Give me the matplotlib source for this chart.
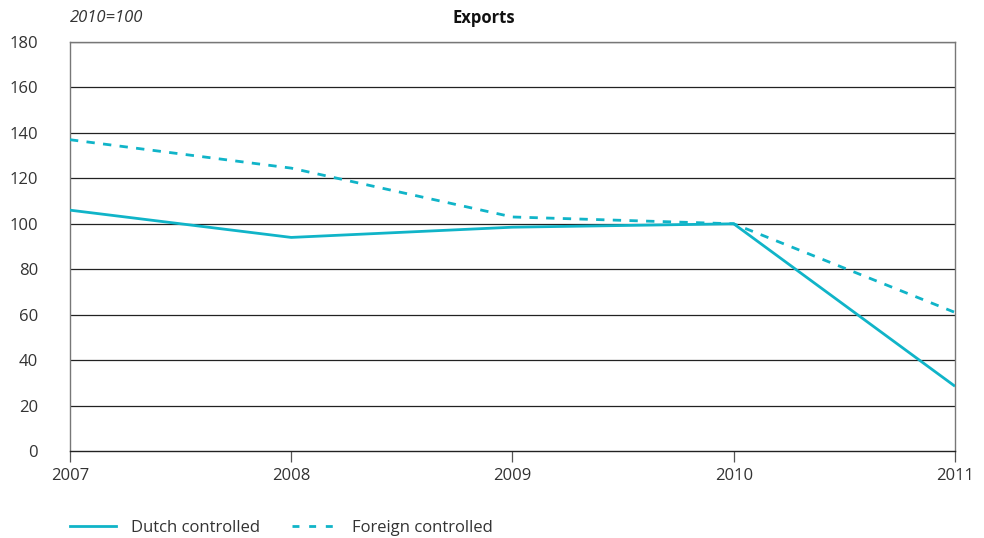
import matplotlib
matplotlib.use("Agg")
import matplotlib.pyplot as plt
from matplotlib.lines import Line2D

years = [2007, 2008, 2009, 2010, 2011]
dutch = [106, 94, 98.5, 100, 28.5]
foreign = [137, 124.5, 103, 100, 61]
yticks = [0, 20, 40, 60, 80, 100, 120, 140, 160, 180]

plt.rcParams['font.family'] = ['Open Sans', 'DejaVu Sans']
line_color = '#10b4c8'
text_color = '#333333'

fig = plt.figure(figsize=(9.84, 5.38), dpi=100)
ax = fig.add_axes([0.0711, 0.1617, 0.8994, 0.7602])

for y in yticks[1:]:
    ax.axhline(y, color='#222222', lw=0.9, zorder=1)

ax.plot(years, dutch, color=line_color, lw=2, zorder=3, solid_capstyle='butt')
ax.plot(years, foreign, color=line_color, lw=2, ls=(0, (3, 3)), zorder=3)

ax.set_xlim(2007, 2011)
ax.set_ylim(0, 180)
ax.set_xticks(years)
ax.set_yticks(yticks)
ax.tick_params(axis='y', length=0, pad=23, labelsize=12, labelcolor=text_color)
ax.tick_params(axis='x', length=8, width=0.9, color='#555555', pad=4, labelsize=12, labelcolor=text_color)

for side in ['left', 'right', 'top']:
    ax.spines[side].set_color('#777777')
    ax.spines[side].set_linewidth(1)
ax.spines['bottom'].set_color('#222222')
ax.spines['bottom'].set_linewidth(1)

fig.text(70 / 984, 1 - 18 / 538, '2010=100', style='italic', fontsize=12,
         color=text_color, ha='left', va='center')
fig.text(484 / 984, 1 - 18 / 538, 'Exports', fontweight='bold', fontsize=12,
         color='#111111', ha='center', va='center')

handles = [Line2D([], [], color=line_color, lw=2),
           Line2D([], [], color=line_color, lw=2, ls=(0, (2.5, 3.5)))]
fig.legend(handles, ['Dutch controlled', 'Foreign controlled'],
           loc='center left', bbox_to_anchor=(55 / 984, 1 - 528 / 538),
           ncol=2, frameon=False, handlelength=2.75, handletextpad=0.9,
           columnspacing=1.9, fontsize=12, labelcolor=text_color)

fig.savefig('out.png', dpi=100)
